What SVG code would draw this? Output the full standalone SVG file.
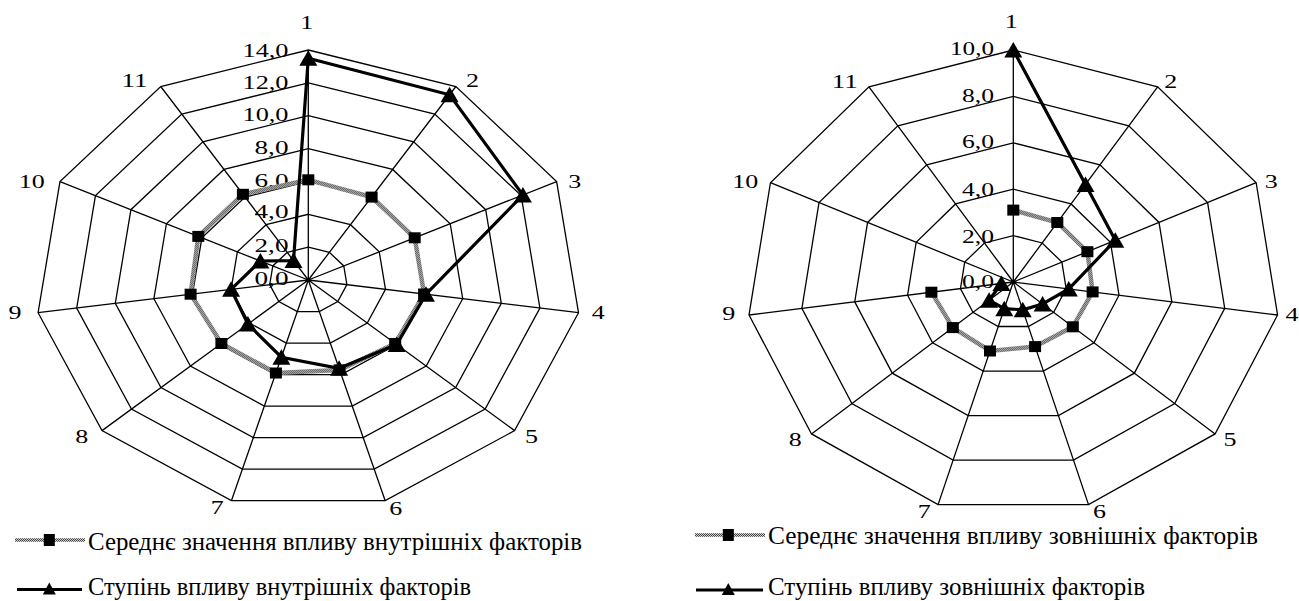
<svg xmlns="http://www.w3.org/2000/svg" xmlns:xlink="http://www.w3.org/1999/xlink" width="1299" height="601" viewBox="0 0 1299 601">
<defs>
  <style>
    .grid{fill:none;stroke:#000;stroke-width:1.3;vector-effect:non-scaling-stroke;stroke-linejoin:miter}
    .t{font-size:19px;fill:#000}
    .ax{text-anchor:middle}
    .val{text-anchor:end}
    .leg{font-size:25px;fill:#000}
    .s1{fill:none;stroke:url(#chk);stroke-width:4.5;stroke-linejoin:miter}
    .s2{fill:none;stroke:#000;stroke-width:3.2;stroke-linejoin:miter}
    .mk{fill:#000}
  </style>
  <pattern id="chk" width="2" height="2" patternUnits="userSpaceOnUse">
    <rect width="2" height="2" fill="#d0d0d0"/>
    <rect width="1" height="1" fill="#404040"/>
    <rect x="1" y="1" width="1" height="1" fill="#404040"/>
  </pattern>
  <polygon id="ring" class="grid" points="0,-1 0.5406,-0.8413 0.9096,-0.428 0.9898,0.1423 0.7557,0.6549 0.2817,0.9595 -0.2817,0.9595 -0.7557,0.6549 -0.9898,0.1423 -0.9096,-0.428 -0.5406,-0.8413"/>
  <path id="spokes" class="grid" d="M0,0L0,-1M0,0L0.5406,-0.8413M0,0L0.9096,-0.428M0,0L0.9898,0.1423M0,0L0.7557,0.6549M0,0L0.2817,0.9595M0,0L-0.2817,0.9595M0,0L-0.7557,0.6549M0,0L-0.9898,0.1423M0,0L-0.9096,-0.428M0,0L-0.5406,-0.8413"/>
  <rect id="sq" class="mk" x="-6" y="-5.5" width="12" height="11"/>
  <path id="tri" class="mk" d="M0,-8L9,7.5L-9,7.5Z"/>
  <rect id="lsq" class="mk" x="-5.5" y="-6" width="11" height="12"/>
  <path id="ltri" class="mk" d="M0,-6.5L6.5,5.5L-6.5,5.5Z"/>
</defs>

<g font-family="'Liberation Serif', 'Times New Roman', serif">
<!-- LEFT CHART -->
<g id="left-chart">
  <g id="left-grid" transform="translate(308.3,280)">
    <use href="#ring" transform="scale(39,32.857)"/>
    <use href="#ring" transform="scale(78,65.714)"/>
    <use href="#ring" transform="scale(117,98.571)"/>
    <use href="#ring" transform="scale(156,131.429)"/>
    <use href="#ring" transform="scale(195,164.286)"/>
    <use href="#ring" transform="scale(234,197.143)"/>
    <use href="#ring" transform="scale(273,230)"/>
    <use href="#spokes" transform="scale(273,230)"/>
  </g>
  <g id="left-values" class="t val">
    <text x="288.5" y="57.3" textLength="46" lengthAdjust="spacingAndGlyphs">14,0</text>
    <text x="288.5" y="89.3" textLength="46" lengthAdjust="spacingAndGlyphs">12,0</text>
    <text x="288.5" y="120.7" textLength="46" lengthAdjust="spacingAndGlyphs">10,0</text>
    <text x="288.5" y="154" textLength="34" lengthAdjust="spacingAndGlyphs">8,0</text>
    <text x="288.5" y="186.7" textLength="34" lengthAdjust="spacingAndGlyphs">6,0</text>
    <text x="288.5" y="218.3" textLength="34" lengthAdjust="spacingAndGlyphs">4,0</text>
    <text x="288.5" y="251.7" textLength="34" lengthAdjust="spacingAndGlyphs">2,0</text>
    <text x="288.5" y="285" textLength="34" lengthAdjust="spacingAndGlyphs">0,0</text>
  </g>
  <g id="left-axis-labels" class="t ax">
    <text x="306.7" y="29.3" textLength="13" lengthAdjust="spacingAndGlyphs">1</text>
    <text x="472.5" y="87.3" textLength="13" lengthAdjust="spacingAndGlyphs">2</text>
    <text x="574.8" y="187.7" textLength="13" lengthAdjust="spacingAndGlyphs">3</text>
    <text x="598.3" y="319" textLength="13" lengthAdjust="spacingAndGlyphs">4</text>
    <text x="531.5" y="443.3" textLength="13" lengthAdjust="spacingAndGlyphs">5</text>
    <text x="395.8" y="514.8" textLength="13" lengthAdjust="spacingAndGlyphs">6</text>
    <text x="217.2" y="514.3" textLength="13" lengthAdjust="spacingAndGlyphs">7</text>
    <text x="81.7" y="443.3" textLength="13" lengthAdjust="spacingAndGlyphs">8</text>
    <text x="15" y="319" textLength="13" lengthAdjust="spacingAndGlyphs">9</text>
    <text x="31.7" y="188.3" textLength="26" lengthAdjust="spacingAndGlyphs">10</text>
    <text x="134.5" y="87.3" textLength="26" lengthAdjust="spacingAndGlyphs">11</text>
  </g>
  <g id="left-series" transform="translate(308.3,280)">
    <polygon class="s1" points="0,-100.2 63.3,-82.9 106.4,-42.2 115.8,14 86.9,63.5 31.3,89.9 -32.4,93 -86.9,63.5 -117.7,14.2 -110,-43.6 -65.4,-85.7"/>
    <g id="left-s1-markers">
      <use href="#sq" x="0" y="-100.2"/><use href="#sq" x="63.3" y="-82.9"/><use href="#sq" x="106.4" y="-42.2"/>
      <use href="#sq" x="115.8" y="14"/><use href="#sq" x="86.9" y="63.5"/><use href="#sq" x="31.3" y="89.9"/>
      <use href="#sq" x="-32.4" y="93"/><use href="#sq" x="-86.9" y="63.5"/><use href="#sq" x="-117.7" y="14.2"/>
      <use href="#sq" x="-110" y="-43.6"/><use href="#sq" x="-65.4" y="-85.7"/>
    </g>
    <polygon class="s2" points="0,-221.8 141.3,-185.2 214.6,-85 117.7,14.2 88.4,64.5 30.8,88.3 -26.9,77.2 -60.4,44.1 -77.2,9.3 -47.9,-19 -14.8,-19.4"/>
    <g id="left-s2-markers">
      <use href="#tri" x="0" y="-221.8"/><use href="#tri" x="141.3" y="-185.2"/><use href="#tri" x="214.6" y="-85"/>
      <use href="#tri" x="117.7" y="14.2"/><use href="#tri" x="88.4" y="64.5"/><use href="#tri" x="30.8" y="88.3"/>
      <use href="#tri" x="-26.9" y="77.2"/><use href="#tri" x="-60.4" y="44.1"/><use href="#tri" x="-77.2" y="9.3"/>
      <use href="#tri" x="-47.9" y="-19"/><use href="#tri" x="-14.8" y="-19.4"/>
    </g>
  </g>
  <g id="left-legend">
    <line x1="15" y1="540" x2="85" y2="540" stroke="url(#chk)" stroke-width="3.5"/>
    <use href="#lsq" x="49.3" y="540"/>
    <text class="leg" x="88" y="550" textLength="494" lengthAdjust="spacingAndGlyphs">Середнє значення впливу внутрішніх факторів</text>
    <line x1="17" y1="589.5" x2="82" y2="589.5" stroke="#000" stroke-width="3"/>
    <use href="#ltri" x="49.3" y="589"/>
    <text class="leg" x="88" y="595" textLength="383" lengthAdjust="spacingAndGlyphs">Ступінь впливу внутрішніх факторів</text>
  </g>
</g>

<!-- RIGHT CHART -->
<g id="right-chart">
  <g id="right-grid" transform="translate(1013.3,282)">
    <use href="#ring" transform="scale(53.4,46.4)"/>
    <use href="#ring" transform="scale(106.8,92.8)"/>
    <use href="#ring" transform="scale(160.2,139.2)"/>
    <use href="#ring" transform="scale(213.6,185.6)"/>
    <use href="#ring" transform="scale(267,232)"/>
    <use href="#spokes" transform="scale(267,232)"/>
  </g>
  <g id="right-values" class="t val">
    <text x="994" y="55" textLength="44" lengthAdjust="spacingAndGlyphs">10,0</text>
    <text x="994" y="101.7" textLength="32" lengthAdjust="spacingAndGlyphs">8,0</text>
    <text x="994" y="148.3" textLength="32" lengthAdjust="spacingAndGlyphs">6,0</text>
    <text x="994" y="196" textLength="32" lengthAdjust="spacingAndGlyphs">4,0</text>
    <text x="994" y="243.3" textLength="32" lengthAdjust="spacingAndGlyphs">2,0</text>
    <text x="994" y="288.3" textLength="32" lengthAdjust="spacingAndGlyphs">0,0</text>
  </g>
  <g id="right-axis-labels" class="t ax">
    <text x="1011.3" y="28.3" textLength="13" lengthAdjust="spacingAndGlyphs">1</text>
    <text x="1170.8" y="88.3" textLength="13" lengthAdjust="spacingAndGlyphs">2</text>
    <text x="1271.3" y="187.7" textLength="13" lengthAdjust="spacingAndGlyphs">3</text>
    <text x="1292" y="321" textLength="13" lengthAdjust="spacingAndGlyphs">4</text>
    <text x="1230" y="445.7" textLength="13" lengthAdjust="spacingAndGlyphs">5</text>
    <text x="1099.5" y="518.3" textLength="13" lengthAdjust="spacingAndGlyphs">6</text>
    <text x="924.3" y="518.3" textLength="13" lengthAdjust="spacingAndGlyphs">7</text>
    <text x="795.3" y="445.7" textLength="13" lengthAdjust="spacingAndGlyphs">8</text>
    <text x="728.7" y="320" textLength="13" lengthAdjust="spacingAndGlyphs">9</text>
    <text x="745.3" y="187.7" textLength="26" lengthAdjust="spacingAndGlyphs">10</text>
    <text x="844.8" y="87.7" textLength="26" lengthAdjust="spacingAndGlyphs">11</text>
  </g>
  <g id="right-series" transform="translate(1013.3,282)">
    <polyline class="s1" points="0,-71.9 44,-59.5 74.1,-30.3 79.3,9.9 59.5,44.8 21.8,64.6 -23.3,69 -60.5,45.6 -81.9,10.2"/>
    <g id="right-s1-markers">
      <use href="#sq" x="0" y="-71.9"/><use href="#sq" x="44" y="-59.5"/><use href="#sq" x="74.1" y="-30.3"/>
      <use href="#sq" x="79.3" y="9.9"/><use href="#sq" x="59.5" y="44.8"/><use href="#sq" x="21.8" y="64.6"/>
      <use href="#sq" x="-23.3" y="69"/><use href="#sq" x="-60.5" y="45.6"/><use href="#sq" x="-81.9" y="10.2"/>
    </g>
    <polyline class="s2" points="0,-232 72.2,-97.6 102,-41.7 55.5,6.9 29.3,22 9.4,27.8 -9,26.7 -24.2,18.2 -11.9,1.5"/>
    <g id="right-s2-markers">
      <use href="#tri" x="0" y="-232"/><use href="#tri" x="72.2" y="-97.6"/><use href="#tri" x="102" y="-41.7"/>
      <use href="#tri" x="55.5" y="6.9"/><use href="#tri" x="29.3" y="22"/><use href="#tri" x="9.4" y="27.8"/>
      <use href="#tri" x="-9" y="26.7"/><use href="#tri" x="-24.2" y="18.2"/><use href="#tri" x="-11.9" y="1.5"/>
    </g>
  </g>
  <g id="right-legend">
    <line x1="695" y1="535" x2="765" y2="535" stroke="url(#chk)" stroke-width="3.5"/>
    <use href="#lsq" x="728.3" y="535"/>
    <text class="leg" x="768" y="543.5" textLength="490" lengthAdjust="spacingAndGlyphs">Середнє значення впливу зовнішніх факторів</text>
    <line x1="696" y1="590" x2="763" y2="590" stroke="#000" stroke-width="3"/>
    <use href="#ltri" x="728.3" y="589.5"/>
    <text class="leg" x="768" y="595" textLength="377" lengthAdjust="spacingAndGlyphs">Ступінь впливу зовнішніх факторів</text>
  </g>
</g>
</g>
</svg>
